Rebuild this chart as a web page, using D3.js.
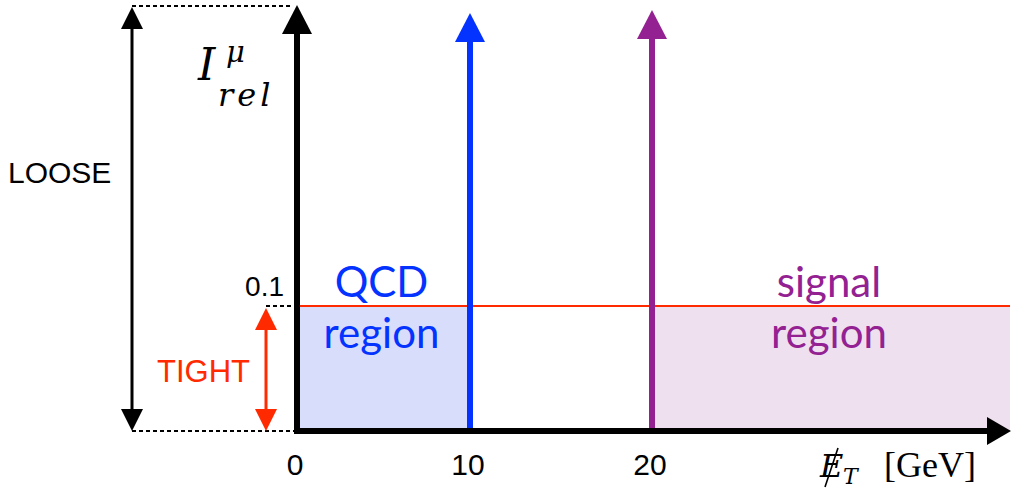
<!DOCTYPE html>
<html>
<head>
<meta charset="utf-8">
<script src="https://cdn.jsdelivr.net/npm/d3@7/dist/d3.min.js"></script>
<style>
  html, body { margin: 0; padding: 0; background: #fff; }
  svg { display: block; }
</style>
</head>
<body>
<svg id="chart" width="1012" height="488"></svg>
<script>
// Missing transverse energy (GeV) tick values and the region cuts
const xTicks = [0, 10, 20];
const qcdMaxMet = 10;      // QCD region: MET below this
const signalMinMet = 20;   // signal region: MET above this
// Relative muon isolation
const isoTight = 0.1;      // tight isolation cut
const isoTicks = [0.1];
const regionLabels = [
  { lines: ["QCD", "region"], from: 0, to: qcdMaxMet, key: "qcd" },
  { lines: ["signal", "region"], from: signalMinMet, to: null, key: "sig" }
];

const W = 1012, H = 488;
const svg = d3.select("#chart");

const colors = {
  qcd: "#0433ff", qcdFill: "#d7ddfb",
  sig: "#942192", sigFill: "#efe0ef",
  tight: "#ff2a00", axis: "#000"
};

// Scales (piecewise linear along MET)
const x = d3.scaleLinear().domain([0, 10, 20]).range([297, 470, 652]);
const y = d3.scaleLinear().domain([0, isoTight]).range([431, 306]);
const xEnd = 1011;   // tip of the MET axis arrow
const yTop = 5;      // tip of the isolation axis arrow

function arrowHead(g, tipX, tipY, dir, len, half, fill) {
  // dir: "up", "down", "right"
  let p;
  if (dir === "up") p = [[tipX, tipY], [tipX - half, tipY + len], [tipX + half, tipY + len]];
  else if (dir === "down") p = [[tipX, tipY], [tipX - half, tipY - len], [tipX + half, tipY - len]];
  else p = [[tipX, tipY], [tipX - len, tipY - half], [tipX - len, tipY + half]];
  g.append("path").attr("d", d3.line()(p) + "Z").attr("fill", fill);
}

// Shaded regions below the tight cut
const regionFill = svg.append("g");
regionFill.append("rect")
  .attr("x", x(0)).attr("y", y(isoTight))
  .attr("width", x(qcdMaxMet) - x(0)).attr("height", y(0) - y(isoTight))
  .attr("fill", colors.qcdFill);
regionFill.append("rect")
  .attr("x", x(signalMinMet)).attr("y", y(isoTight))
  .attr("width", xEnd - 1 - x(signalMinMet)).attr("height", y(0) - y(isoTight))
  .attr("fill", colors.sigFill);

// Tight isolation line
svg.append("line")
  .attr("x1", x(0)).attr("x2", xEnd - 1)
  .attr("y1", y(isoTight)).attr("y2", y(isoTight))
  .attr("stroke", colors.tight).attr("stroke-width", 2);

// Dashed guides to the left of the isolation axis
const guides = svg.append("g").attr("stroke", "#000").attr("stroke-width", 2)
  .attr("stroke-dasharray", "4,3");
guides.append("line").attr("x1", 132).attr("x2", x(0) - 4).attr("y1", yTop + 1).attr("y2", yTop + 1);
guides.append("line").attr("x1", 132).attr("x2", x(0) - 3).attr("y1", y(0)).attr("y2", y(0));
guides.append("line").attr("x1", 266).attr("x2", x(0) - 3).attr("y1", y(isoTight)).attr("y2", y(isoTight));

// MET cut lines with arrows
[[qcdMaxMet, colors.qcd, 13], [signalMinMet, colors.sig, 10]].forEach(([v, c, tip]) => {
  svg.append("line")
    .attr("x1", x(v)).attr("x2", x(v))
    .attr("y1", y(0)).attr("y2", tip + 26)
    .attr("stroke", c).attr("stroke-width", 6);
  arrowHead(svg, x(v), tip, "up", 29, 15, c);
});

// Axes
const axes = svg.append("g");
axes.append("line")
  .attr("x1", x(0)).attr("x2", x(0)).attr("y1", y(0) + 3).attr("y2", yTop + 25)
  .attr("stroke", colors.axis).attr("stroke-width", 6);
arrowHead(axes, x(0), yTop, "up", 29, 15, colors.axis);
axes.append("line")
  .attr("x1", x(0) - 3).attr("x2", xEnd - 20).attr("y1", y(0)).attr("y2", y(0))
  .attr("stroke", colors.axis).attr("stroke-width", 6);
arrowHead(axes, xEnd, y(0), "right", 24, 14, colors.axis);

// LOOSE double arrow
const loose = svg.append("g");
loose.append("line").attr("x1", 132).attr("x2", 132).attr("y1", yTop + 18).attr("y2", y(0) - 18)
  .attr("stroke", "#000").attr("stroke-width", 3);
arrowHead(loose, 132, yTop + 2, "up", 22, 11, "#000");
arrowHead(loose, 132, y(0), "down", 22, 11, "#000");

// TIGHT double arrow
const tight = svg.append("g");
tight.append("line").attr("x1", 266).attr("x2", 266).attr("y1", y(isoTight) + 18).attr("y2", y(0) - 18)
  .attr("stroke", colors.tight).attr("stroke-width", 3);
arrowHead(tight, 266, y(isoTight) + 2, "up", 22, 11, colors.tight);
arrowHead(tight, 266, y(0), "down", 22, 11, colors.tight);

// Tick labels
const sans = "'Liberation Sans', Arial, Helvetica, sans-serif";
svg.append("g").selectAll("text").data(xTicks).join("text")
  .attr("x", d => x(d) - 2).attr("y", 475)
  .attr("text-anchor", "middle")
  .attr("font-family", sans).attr("font-size", 30)
  .text(d => d);
svg.append("g").selectAll("text").data(isoTicks).join("text")
  .attr("x", 284).attr("y", y(isoTight) - 10)
  .attr("text-anchor", "end")
  .attr("font-family", sans).attr("font-size", 28)
  .text(d => d);

svg.append("text").attr("x", 8).attr("y", 183)
  .attr("font-family", sans).attr("font-size", 30).text("LOOSE");
svg.append("text").attr("x", 157).attr("y", 382)
  .attr("font-family", sans).attr("font-size", 31).attr("fill", colors.tight).text("TIGHT");

// Region labels
const regionFont = "Lato, 'Open Sans', sans-serif";
regionLabels.forEach(r => {
  const x0 = x(r.from);
  const x1 = r.to === null ? xEnd - 1 : x(r.to);
  const cx = (x0 + x1) / 2;
  svg.append("g").selectAll("text").data(r.lines).join("text")
    .attr("x", cx - 2).attr("y", (d, i) => 297 + i * 51)
    .attr("text-anchor", "middle")
    .attr("font-family", regionFont).attr("font-size", 42)
    .attr("fill", colors[r.key])
    .text(d => d);
});

// Axis titles
const mathFont = "'DejaVu Serif', 'Liberation Serif', serif";
const ylab = svg.append("g").attr("font-family", mathFont).attr("font-style", "italic");
ylab.append("text").attr("x", 198).attr("y", 80).attr("font-size", 44).text("I");
ylab.append("text").attr("x", 226).attr("y", 62).attr("font-size", 29).text("μ");
ylab.append("text").attr("x", 218).attr("y", 106).attr("font-size", 32)
  .attr("letter-spacing", 4).text("rel");

const xlab = svg.append("g");
xlab.append("text").attr("x", 820).attr("y", 477).attr("font-size", 32)
  .attr("font-family", mathFont).attr("font-style", "italic").text("E");
xlab.append("text").attr("x", 843).attr("y", 484).attr("font-size", 22)
  .attr("font-family", mathFont).attr("font-style", "italic").text("T");
xlab.append("line").attr("x1", 825).attr("y1", 487).attr("x2", 838).attr("y2", 448)
  .attr("stroke", "#000").attr("stroke-width", 1.6);
xlab.append("text").attr("x", 884).attr("y", 477).attr("font-size", 36)
  .attr("font-family", "'Liberation Serif', serif").text("[GeV]");
</script>
</body>
</html>
